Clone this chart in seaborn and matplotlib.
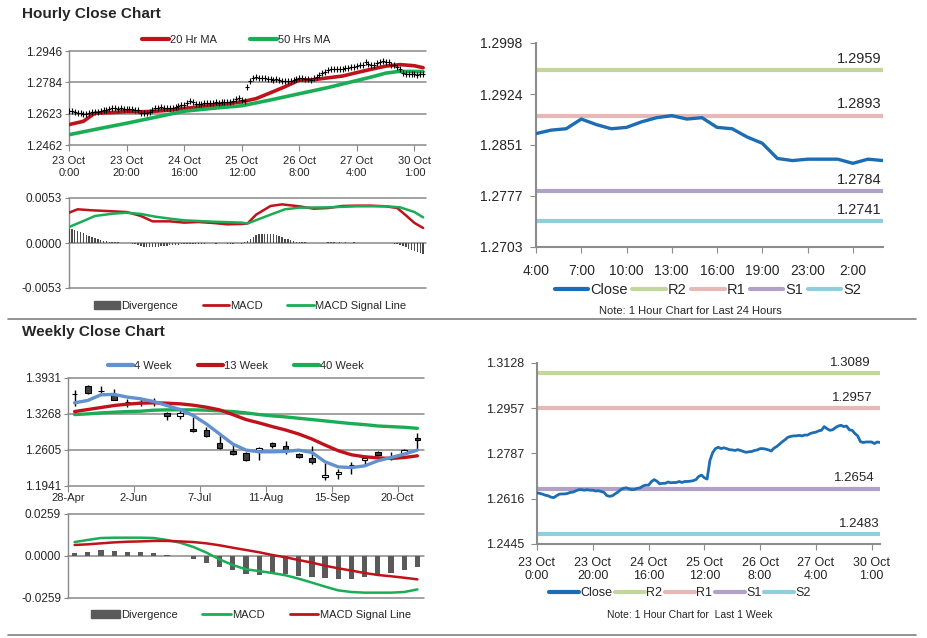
import numpy as np
import matplotlib
matplotlib.use("Agg")
import matplotlib.pyplot as plt
from matplotlib.lines import Line2D
from matplotlib.patches import Patch
import seaborn as sns

# ---------------- DATA ----------------
# hourly close, 23 Oct 0:00 .. 30 Oct (124 hourly points, weekend removed)
hourly_close = [
    1.2638, 1.2636, 1.2633, 1.2629, 1.2627, 1.2622, 1.2620, 1.2627, 1.2633, 1.2634,
    1.2634, 1.2636, 1.2640, 1.2641, 1.2646, 1.2650, 1.2650, 1.2648, 1.2650, 1.2648,
    1.2648, 1.2645, 1.2646, 1.2643, 1.2640, 1.2628, 1.2625, 1.2627, 1.2634, 1.2641,
    1.2650, 1.2655, 1.2657, 1.2653, 1.2650, 1.2651, 1.2655, 1.2657, 1.2664, 1.2667,
    1.2667, 1.2680, 1.2688, 1.2682, 1.2672, 1.2674, 1.2674, 1.2679, 1.2676, 1.2677,
    1.2677, 1.2681, 1.2677, 1.2681, 1.2681, 1.2682, 1.2684, 1.2688, 1.2700, 1.2705,
    1.2695, 1.2690, 1.2760, 1.2790, 1.2805, 1.2810, 1.2805, 1.2808, 1.2805, 1.2801,
    1.2800, 1.2798, 1.2801, 1.2798, 1.2794, 1.2791, 1.2793, 1.2794, 1.2798, 1.2800,
    1.2805, 1.2805, 1.2803, 1.2800, 1.2796, 1.2807, 1.2813, 1.2822, 1.2831, 1.2839,
    1.2848, 1.2851, 1.2853, 1.2853, 1.2855, 1.2853, 1.2856, 1.2856, 1.2862, 1.2865,
    1.2867, 1.2872, 1.2874, 1.2888, 1.2880, 1.2874, 1.2876, 1.2884, 1.2890, 1.2893,
    1.2888, 1.2890, 1.2876, 1.2874, 1.2862, 1.2853, 1.2831, 1.2828, 1.2830, 1.2830,
    1.2830, 1.2824, 1.2830, 1.2828]
hour_labels = ["23 Oct\n0:00", "23 Oct\n20:00", "24 Oct\n16:00", "25 Oct\n12:00",
               "26 Oct\n8:00", "27 Oct\n4:00", "30 Oct\n1:00"]
day_labels = ["4:00", "7:00", "10:00", "13:00", "16:00", "19:00", "23:00", "2:00"]

ma20_hours = [0, 5, 9, 15, 20, 25, 30, 35, 40, 45, 50, 55, 60, 65, 70, 75, 80, 85,
              90, 95, 100, 105, 110, 115, 120, 123]
ma20 = [1.2567, 1.2584, 1.2626, 1.2629, 1.2634, 1.2633, 1.2636, 1.2641, 1.2650,
        1.2658, 1.2667, 1.2674, 1.2684, 1.2701, 1.2731, 1.2762, 1.2796, 1.2798,
        1.2808, 1.2817, 1.2835, 1.2852, 1.2868, 1.2876, 1.2870, 1.2860]
ma50_hours = [0, 10, 20, 30, 40, 50, 60, 70, 80, 90, 100, 105, 110, 114, 118, 123]
ma50 = [1.2515, 1.2545, 1.2574, 1.2605, 1.2636, 1.2651, 1.2664, 1.2694, 1.2726,
        1.2758, 1.2794, 1.2812, 1.2832, 1.2840, 1.2841, 1.2840]

macd_h_hours = [0, 3, 8, 13, 20, 25, 29, 35, 40, 45, 50, 55, 60, 62, 65, 70, 74, 80,
                85, 90, 95, 100, 105, 110, 114, 117, 120, 123]
macd_h = [0.00357, 0.00397, 0.00385, 0.00377, 0.00365, 0.00318, 0.00255, 0.00255,
          0.00240, 0.00247, 0.00236, 0.00220, 0.00224, 0.00230, 0.00334, 0.00436,
          0.00455, 0.00432, 0.00404, 0.00412, 0.00436, 0.00440, 0.00440, 0.00432,
          0.00412, 0.00326, 0.00236, 0.00177]
signal_h_hours = [0, 5, 9, 15, 20, 25, 30, 35, 40, 50, 60, 62, 70, 75, 80, 90, 100,
                  110, 115, 120, 123]
signal_h = [0.00188, 0.00259, 0.00318, 0.00345, 0.00357, 0.00342, 0.00310, 0.00287,
            0.00267, 0.00251, 0.00240, 0.00230, 0.00334, 0.00397, 0.00416, 0.00420,
            0.00432, 0.00432, 0.00420, 0.00365, 0.00302]
div_h = [
    0.00169, 0.00161, 0.00149, 0.00137, 0.00126, 0.00114, 0.00098, 0.00082, 0.00071, 0.00059,
    0.00047, 0.00035, 0.00027, 0.00020, 0.00016, 0.00012, 0.00008, 0.00008, 0.00004, 0.00004,
    0.0, -0.00004, -0.00008, -0.00016, -0.00027, -0.00035, -0.00043, -0.00047, -0.00051, -0.00051,
    -0.00047, -0.00043, -0.00039, -0.00035, -0.00031, -0.00027, -0.00027, -0.00027, -0.00020, -0.00016,
    -0.00012, -0.00010, -0.00008, -0.00006, -0.00008, -0.00010, -0.00008, -0.00006, -0.00004, -0.00002,
    -0.00004, -0.00006, -0.00004, -0.00002, -0.00004, -0.00006, -0.00008, -0.00006, -0.00004, -0.00002,
    -0.00008, 0.00012, 0.00027, 0.00051, 0.00071, 0.00090, 0.00102, 0.00110, 0.00110, 0.00106,
    0.00106, 0.00102, 0.00090, 0.00079, 0.00067, 0.00051, 0.00043, 0.00031, 0.00024, 0.00016,
    0.00012, 0.00008, 0.00006, 0.00004, 0.00002, 0.0, -0.00002, 0.0, 0.00002, 0.00004,
    0.00006, 0.00006, 0.00006, 0.00004, 0.00006, 0.00004, 0.00006, 0.00004, 0.00004, 0.00006,
    0.00004, 0.00002, 0.00002, 0.00004, 0.00002, 0.0, 0.00002, 0.0, -0.00002, 0.0,
    0.00002, -0.00002, -0.00004, -0.00006, -0.00012, -0.00027, -0.00039, -0.00051, -0.00067, -0.00079,
    -0.00090, -0.00106, -0.00118, -0.00130]

# weekly candles, 28-Apr .. 27-Oct (27 weeks)
week_labels = ["28-Apr", "2-Jun", "7-Jul", "11-Aug", "15-Sep", "20-Oct"]
w_open = [1.3645, 1.3776, 1.3693, 1.3622, 1.3489, 1.3489, 1.3483, 1.3288, 1.3239,
          1.2992, 1.2979, 1.2726, 1.2578, 1.2541, 1.2596, 1.2738, 1.2683, 1.2522,
          1.2466, 1.2108, 1.2164, 1.2335, 1.2423, 1.2559, 1.2482, 1.2541, 1.2831]
w_high = [1.3702, 1.3795, 1.3783, 1.3721, 1.3548, 1.3535, 1.3560, 1.3313, 1.3350,
          1.3220, 1.3023, 1.2899, 1.2714, 1.2559, 1.2658, 1.2757, 1.2775, 1.2541,
          1.2670, 1.2374, 1.2250, 1.2386, 1.2510, 1.2584, 1.2559, 1.2622, 1.2911]
w_low = [1.3424, 1.3641, 1.3659, 1.3517, 1.3393, 1.3424, 1.3424, 1.3165, 1.3177,
         1.2942, 1.2850, 1.2627, 1.2516, 1.2398, 1.2423, 1.2633, 1.2528, 1.2466,
         1.2354, 1.2052, 1.2077, 1.2170, 1.2312, 1.2497, 1.2423, 1.2528, 1.2622]
w_close = [1.3638, 1.3659, 1.3687, 1.3523, 1.3483, 1.3483, 1.3489, 1.3227, 1.3282,
           1.2955, 1.2868, 1.2633, 1.2522, 1.2423, 1.2646, 1.2670, 1.2602, 1.2479,
           1.2386, 1.2145, 1.2207, 1.2325, 1.2466, 1.2516, 1.2476, 1.2609, 1.2795]
ma4w = [1.3474, 1.3517, 1.3622, 1.3628, 1.3579, 1.3548, 1.3498, 1.3424, 1.3350,
        1.3239, 1.3084, 1.2899, 1.2714, 1.2602, 1.2571, 1.2571, 1.2578, 1.2602,
        1.2559, 1.2386, 1.2293, 1.2281, 1.2312, 1.2405, 1.2466, 1.2528, 1.2602]
ma13w = [1.3313, 1.3350, 1.3387, 1.3424, 1.3449, 1.3467, 1.3474, 1.3467, 1.3455,
         1.3430, 1.3393, 1.3344, 1.3257, 1.3165, 1.3103, 1.3035, 1.2973, 1.2899,
         1.2806, 1.2695, 1.2590, 1.2516, 1.2479, 1.2460, 1.2448, 1.2466, 1.2497]
ma40w = [1.3257, 1.3270, 1.3288, 1.3301, 1.3313, 1.3319, 1.3338, 1.3344, 1.3344,
         1.3344, 1.3338, 1.3325, 1.3313, 1.3288, 1.3257, 1.3233, 1.3214, 1.3189,
         1.3165, 1.3140, 1.3115, 1.3091, 1.3072, 1.3047, 1.3035, 1.3023, 1.3004]
div_w = [0.0016, 0.0023, 0.0035, 0.0031, 0.0025, 0.0025, 0.0016, 0.0008, -0.0002,
         -0.0021, -0.0045, -0.0068, -0.0084, -0.0109, -0.0115, -0.0113, -0.0109,
         -0.0123, -0.0127, -0.0138, -0.0142, -0.0144, -0.0130, -0.0113, -0.0107,
         -0.0088, -0.0068]
macd_w = [0.0086, 0.0099, 0.0111, 0.0113, 0.0113, 0.0113, 0.0111, 0.0099, 0.0082,
          0.0056, 0.0021, -0.0021, -0.0056, -0.0082, -0.0093, -0.0105, -0.0119,
          -0.0140, -0.0164, -0.0189, -0.0212, -0.0222, -0.0226, -0.0226, -0.0226,
          -0.0222, -0.0206]
signal_w = [0.0068, 0.0072, 0.0078, 0.0084, 0.0088, 0.0090, 0.0093, 0.0093, 0.0090,
            0.0086, 0.0078, 0.0066, 0.0051, 0.0037, 0.0023, 0.0006, -0.0008, -0.0025,
            -0.0041, -0.0060, -0.0076, -0.0090, -0.0105, -0.0117, -0.0125, -0.0134,
            -0.0144]

levels_24h = {"R2": 1.2959, "R1": 1.2893, "S1": 1.2784, "S2": 1.2741}
levels_1w = {"R2": 1.3089, "R1": 1.2957, "S1": 1.2654, "S2": 1.2483}

# ---------------- STYLE ----------------
sns.set_style("white")
plt.rcParams['font.family'] = ['Liberation Sans', 'DejaVu Sans']
plt.rcParams['patch.force_edgecolor'] = False

RED = '#c0121b'
GREEN = '#1aad55'
BLUE4 = '#6191cf'
CLOSE = '#1c6db3'
LVL = {"R2": '#c4d79b', "R1": '#e6b8b7', "S1": '#b1a0c7', "S2": '#92cddc'}
GRID = '#898989'
DIV = '#5a5a5a'

W, H = 928, 638
fig = plt.figure(figsize=(W / 100, H / 100), dpi=100)


def px_axes(l, t, r, b):
    return fig.add_axes([l / W, 1 - b / H, (r - l) / W, (b - t) / H])


def grid_style(ax, yticks, size=8.5):
    ax.set_ylim(yticks[0], yticks[-1])
    ax.set_yticks(yticks)
    ax.set_yticklabels(["%.4f" % v for v in yticks])
    for s in ['top', 'right', 'bottom']:
        ax.spines[s].set_visible(False)
    ax.spines['left'].set_color(GRID)
    ax.spines['left'].set_linewidth(1.0)
    ax.grid(False)
    for v in yticks:
        ax.axhline(v, color=GRID, lw=1.1, zorder=1.5, clip_on=False)
    ax.tick_params(axis='y', length=3, color=GRID, labelsize=size, pad=2, left=True)
    ax.set_xlabel("")
    ax.set_ylabel("")


def legend_at(handles, labels, cx, cy, size, hl=2.4, cs=2.0, tp=0.1):
    fig.legend(handles, labels, loc='center', bbox_to_anchor=(cx / W, 1 - cy / H),
               ncol=len(handles), frameon=False, fontsize=size, handlelength=hl,
               handletextpad=tp, columnspacing=cs, borderpad=0, borderaxespad=0)


hours = np.arange(len(hourly_close))

# ---------------- Hourly price (top-left) ----------------
fig.text(22 / W, 1 - 14 / H, "Hourly Close Chart", fontsize=11, fontweight='bold', va='center')
ax1 = px_axes(69, 51, 426, 145)
grid_style(ax1, [1.2462, 1.2623, 1.2784, 1.2946])
sns.lineplot(x=ma20_hours, y=ma20, ax=ax1, color=RED, lw=2.6, zorder=3)
sns.lineplot(x=ma50_hours, y=ma50, ax=ax1, color=GREEN, lw=2.6, zorder=3)
ax1.scatter(hours, hourly_close, marker='|', s=16, color='black', lw=0.8, zorder=4)
ax1.scatter(hours, hourly_close, marker='_', s=6, color='black', lw=0.8, zorder=4)
ax1.set_ylim(1.2462, 1.2946)
ax1.set_xlim(0, 124)
ax1.set_xticks(np.arange(0, 121, 20))
ax1.set_xticklabels(hour_labels, linespacing=1.25)
ax1.tick_params(axis='x', length=4, color=GRID, labelsize=8, pad=4, bottom=True)
ax1.set_xlabel(""); ax1.set_ylabel("")
legend_at([Line2D([], [], color=RED, lw=3), Line2D([], [], color=GREEN, lw=3)],
          ["20 Hr MA", "50 Hrs MA"], 236, 40, 8, hl=2.4, cs=3.0)

# ---------------- Hourly MACD ----------------
ax2 = px_axes(69, 198, 426, 288)
grid_style(ax2, [-0.0053, 0.0, 0.0053])
ax2.bar(hours, div_h, width=0.5, color='#4a4a4a', edgecolor='none', linewidth=0, zorder=3)
sns.lineplot(x=macd_h_hours, y=macd_h, ax=ax2, color=RED, lw=1.8, zorder=4)
sns.lineplot(x=signal_h_hours, y=signal_h, ax=ax2, color=GREEN, lw=1.8, zorder=4)
ax2.set_ylim(-0.0053, 0.0053)
ax2.set_xlim(0, 124)
ax2.set_xticks([])
ax2.set_xlabel(""); ax2.set_ylabel("")
legend_at([Patch(color=DIV), Line2D([], [], color=RED, lw=2), Line2D([], [], color=GREEN, lw=2)],
          ["Divergence", "MACD", "MACD Signal Line"], 250, 306, 8, hl=2.4, cs=2.2)

# separators
fig.add_artist(Line2D([8 / W, 916 / W], [1 - 319 / H, 1 - 319 / H], color='#808080', lw=1.2))
fig.add_artist(Line2D([8 / W, 916 / W], [1 - 635 / H, 1 - 635 / H], color='#808080', lw=1.2))

# ---------------- Weekly price ----------------
fig.text(22 / W, 1 - 332 / H, "Weekly Close Chart", fontsize=11, fontweight='bold', va='center')
ax3 = px_axes(68, 378, 424, 486)
grid_style(ax3, [1.1941, 1.2605, 1.3268, 1.3931])
xw = np.arange(len(w_close)) + 0.5
ax3.vlines(xw, w_low, w_high, color='black', lw=1.0, zorder=3)
body_col = ['white' if c > o else '#3f3f3f' for o, c in zip(w_open, w_close)]
ax3.bar(xw, np.array(w_close) - np.array(w_open), bottom=w_open, width=0.42,
        color=body_col, edgecolor='black', linewidth=0.8, zorder=3.5)
sns.lineplot(x=xw, y=ma40w, ax=ax3, color=GREEN, lw=2.4, zorder=4)
sns.lineplot(x=xw, y=ma13w, ax=ax3, color=RED, lw=2.4, zorder=4)
sns.lineplot(x=xw, y=ma4w, ax=ax3, color=BLUE4, lw=2.4, zorder=4)
ax3.set_ylim(1.1941, 1.3931)
ax3.set_xlim(0, 27)
ax3.set_xticks(np.arange(0, 26, 5))
ax3.set_xticklabels(week_labels)
ax3.tick_params(axis='x', length=4, color=GRID, labelsize=8, pad=1, bottom=True)
ax3.set_xlabel(""); ax3.set_ylabel("")
legend_at([Line2D([], [], color=BLUE4, lw=3), Line2D([], [], color=RED, lw=3),
           Line2D([], [], color=GREEN, lw=3)],
          ["4 Week", "13 Week", "40 Week"], 236, 366, 8, hl=2.3, cs=2.3)

# ---------------- Weekly MACD ----------------
ax4 = px_axes(68, 514, 424, 598)
grid_style(ax4, [-0.0259, 0.0, 0.0259])
ax4.bar(xw, div_w, width=0.4, color=DIV, edgecolor='none', linewidth=0, zorder=3)
sns.lineplot(x=xw, y=macd_w, ax=ax4, color=GREEN, lw=1.8, zorder=4)
sns.lineplot(x=xw, y=signal_w, ax=ax4, color=RED, lw=1.8, zorder=4)
ax4.set_ylim(-0.0259, 0.0259)
ax4.set_xlim(0, 27)
ax4.set_xticks([])
ax4.set_xlabel(""); ax4.set_ylabel("")
legend_at([Patch(color=DIV), Line2D([], [], color=GREEN, lw=2), Line2D([], [], color=RED, lw=2)],
          ["Divergence", "MACD", "MACD Signal Line"], 251, 615, 8, hl=2.6, cs=2.2)


# ---------------- Pivot charts (right) ----------------
def pivot_style(ax, yticks, size, ypad, xpad):
    ax.set_ylim(yticks[0], yticks[-1])
    ax.set_yticks(yticks)
    ax.set_yticklabels(["%.4f" % v for v in yticks])
    for s in ['top', 'right']:
        ax.spines[s].set_visible(False)
    for s in ['left', 'bottom']:
        ax.spines[s].set_color('#8c8c8c')
        ax.spines[s].set_linewidth(1.5)
    ax.grid(False)
    ax.tick_params(axis='both', length=4, color='#8c8c8c', labelsize=size,
                   left=True, bottom=True)
    ax.tick_params(axis='y', pad=ypad)
    ax.tick_params(axis='x', pad=xpad)
    ax.set_xlabel("")
    ax.set_ylabel("")


# last 24 hours
close_24 = hourly_close[-24:]
ax5 = px_axes(536, 43, 883, 247)
for k in ["R2", "R1", "S1", "S2"]:
    ax5.axhline(levels_24h[k], color=LVL[k], lw=3, zorder=2)
    ax5.annotate("%.4f" % levels_24h[k], xy=(22.9, levels_24h[k]), xytext=(0, 3),
                 textcoords='offset points', ha='right', va='bottom', fontsize=10.5)
sns.lineplot(x=np.arange(len(close_24)), y=close_24, ax=ax5, color=CLOSE, lw=2.4, zorder=3)
pivot_style(ax5, [1.2703, 1.2777, 1.2851, 1.2924, 1.2998], 10, 6, 8)
ax5.set_xlim(0, 23)
ax5.set_xticks(np.arange(0, 22, 3))
ax5.set_xticklabels(day_labels)
legend_at([Line2D([], [], color=CLOSE, lw=3)] + [Line2D([], [], color=LVL[k], lw=3) for k in ["R2", "R1", "S1", "S2"]],
          ["Close", "R2", "R1", "S1", "S2"], 708, 290, 10.5, hl=2.3, cs=0.3, tp=0.15)
fig.text(690 / W, 1 - 311 / H, "Note: 1 Hour Chart for Last 24 Hours", fontsize=8,
         ha='center', va='center')

# last week
ax6 = px_axes(537, 363, 880, 544)
for k in ["R2", "R1", "S1", "S2"]:
    ax6.axhline(levels_1w[k], color=LVL[k], lw=3, zorder=2)
lbl_x = {"R2": 119.5, "R1": 120.2, "S1": 121.0, "S2": 123.0}
for k in ["R2", "R1", "S1", "S2"]:
    ax6.annotate("%.4f" % levels_1w[k], xy=(lbl_x[k], levels_1w[k]), xytext=(0, 3),
                 textcoords='offset points', ha='right', va='bottom', fontsize=9.5)
sns.lineplot(x=hours, y=hourly_close, ax=ax6, color=CLOSE, lw=2.0, zorder=3)
pivot_style(ax6, [1.2445, 1.2616, 1.2787, 1.2957, 1.3128], 9, 5, 5)
ax6.set_xlim(0, 123)
ax6.set_xticks(np.arange(0, 121, 20))
ax6.set_xticklabels(hour_labels, linespacing=1.15)
legend_at([Line2D([], [], color=CLOSE, lw=3)] + [Line2D([], [], color=LVL[k], lw=3) for k in ["R2", "R1", "S1", "S2"]],
          ["Close", "R2", "R1", "S1", "S2"], 680, 593, 9, hl=2.4, cs=0.2, tp=0.1)
fig.text(690 / W, 1 - 615 / H, "Note: 1 Hour Chart for  Last 1 Week", fontsize=7.5,
         ha='center', va='center')

fig.savefig("out.png", dpi=100)
